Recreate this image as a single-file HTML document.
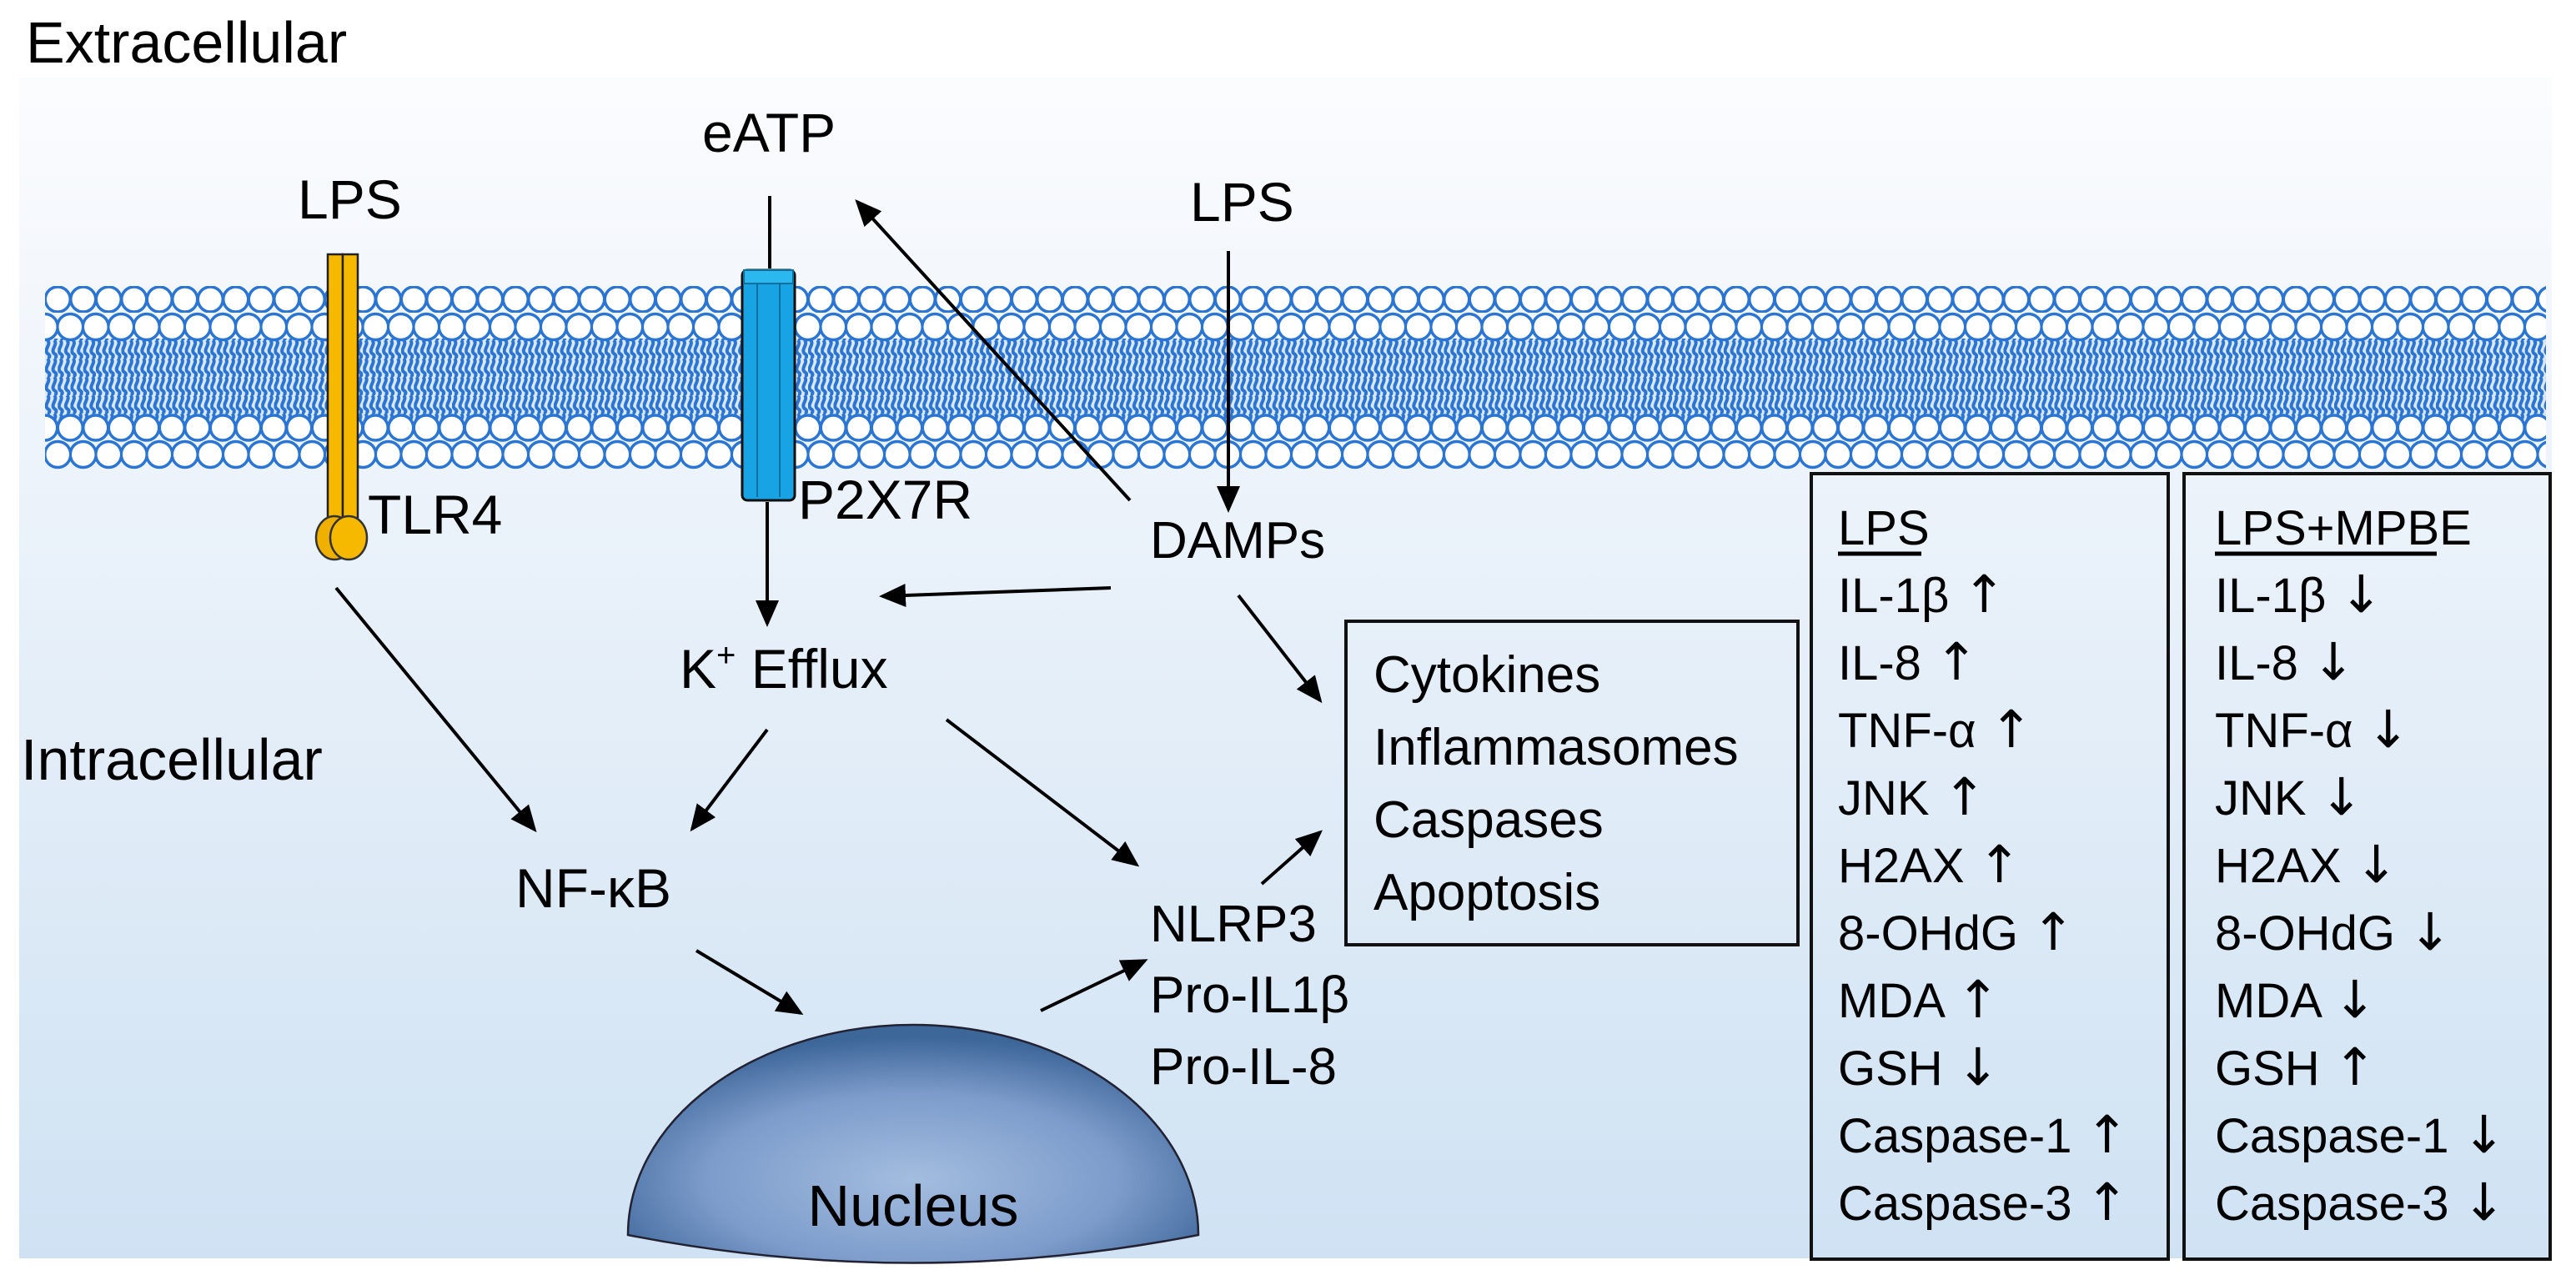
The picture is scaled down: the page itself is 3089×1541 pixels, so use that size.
<!DOCTYPE html>
<html><head><meta charset="utf-8"><style>
html,body{margin:0;padding:0;background:#fff;}
svg{display:block;}
text{font-family:"Liberation Sans",sans-serif;fill:#000;}
.a{font-family:"DejaVu Sans",sans-serif;font-size:62px;}
</style></head><body>
<svg width="3089" height="1541" viewBox="0 0 3089 1541" xmlns="http://www.w3.org/2000/svg">
<defs>
<linearGradient id="bg" x1="0" y1="0" x2="0" y2="1">
<stop offset="0" stop-color="#fbfcfe"/><stop offset="0.3" stop-color="#eef4fb"/><stop offset="1" stop-color="#cfe2f3"/>
</linearGradient>
<radialGradient id="nuc" cx="0.5" cy="0.65" r="0.6">
<stop offset="0" stop-color="#a3bddf"/><stop offset="0.6" stop-color="#7d9ccb"/><stop offset="1" stop-color="#3d6699"/>
</radialGradient>
<pattern id="h1" patternUnits="userSpaceOnUse" x="54" y="343" width="30.5" height="32">
<circle cx="15.25" cy="16" r="15" fill="#fff" stroke="#2a75d3" stroke-width="3.5"/></pattern>
<pattern id="h2" patternUnits="userSpaceOnUse" x="69" y="374" width="30.5" height="36">
<circle cx="15.25" cy="18" r="15.5" fill="#fff" stroke="#2a75d3" stroke-width="3.5"/></pattern>
<pattern id="h3" patternUnits="userSpaceOnUse" x="69" y="496" width="30.5" height="34">
<circle cx="15.25" cy="17" r="15" fill="#fff" stroke="#2a75d3" stroke-width="3.5"/></pattern>
<pattern id="h4" patternUnits="userSpaceOnUse" x="54" y="527" width="30.5" height="36">
<circle cx="15.25" cy="18" r="15.5" fill="#fff" stroke="#2a75d3" stroke-width="3.5"/></pattern>
<pattern id="tl" patternUnits="userSpaceOnUse" x="54" y="408" width="15.25" height="22">
<rect width="15.25" height="22" fill="#dbe8f8"/>
<path d="M3,0 C8,5 -2,11 3,16 C8,19 4,22 3,22 M11,0 C16,5 6,11 11,16 C16,19 12,22 11,22" fill="none" stroke="#2a75d3" stroke-width="4"/></pattern>
<marker id="ar" markerWidth="8" markerHeight="8" refX="7" refY="4" orient="auto" markerUnits="strokeWidth">
<path d="M0,0.5 L8,4 L0,7.5 z" fill="#000"/></marker>
</defs>

<rect x="23" y="93" width="3037" height="1416" fill="url(#bg)"/>

<rect x="54" y="406" width="2999" height="108" fill="url(#tl)"/>
<rect x="54" y="343" width="2999" height="32" fill="url(#h1)"/>
<rect x="54" y="374" width="2999" height="36" fill="url(#h2)"/>
<rect x="54" y="496" width="2999" height="34" fill="url(#h3)"/>
<rect x="54" y="527" width="2999" height="36" fill="url(#h4)"/>

<rect x="393" y="305" width="18" height="318" fill="#f7b900" stroke="#222" stroke-width="2.5"/>
<rect x="411" y="305" width="18" height="318" fill="#f7b900" stroke="#222" stroke-width="2.5"/>
<ellipse cx="401" cy="645" rx="22" ry="26" fill="#f0b000" stroke="#333" stroke-width="2.5"/>
<ellipse cx="418" cy="645" rx="22" ry="26" fill="#f7b900" stroke="#333" stroke-width="2.5"/>

<rect x="890" y="324" width="63" height="276" rx="6" fill="#18a4e4" stroke="#111" stroke-width="3"/>
<line x1="908" y1="330" x2="908" y2="596" stroke="#0d6f9e" stroke-width="2"/>
<line x1="935" y1="330" x2="935" y2="596" stroke="#0d6f9e" stroke-width="2"/>
<rect x="892" y="324" width="59" height="16" fill="#2bb8ee" stroke="#0d6f9e" stroke-width="2"/>

<path d="M753,1481 A342,252 0 0 1 1437,1481 Q1095,1548 753,1481 Z" fill="url(#nuc)" stroke="#223" stroke-width="2.5"/>

<g stroke="#000" stroke-width="4" fill="none">
<line x1="923" y1="235" x2="923" y2="322"/>
<line x1="1355" y1="600" x2="1028" y2="242" marker-end="url(#ar)"/>
<line x1="1473" y1="301" x2="1473" y2="611" marker-end="url(#ar)"/>
<line x1="920" y1="602" x2="920" y2="748" marker-end="url(#ar)"/>
<line x1="1332" y1="705" x2="1058" y2="715" marker-end="url(#ar)"/>
<line x1="1485" y1="714" x2="1583" y2="840" marker-end="url(#ar)"/>
<line x1="403" y1="705" x2="641" y2="995" marker-end="url(#ar)"/>
<line x1="920" y1="875" x2="830" y2="994" marker-end="url(#ar)"/>
<line x1="1135" y1="863" x2="1363" y2="1037" marker-end="url(#ar)"/>
<line x1="1513" y1="1060" x2="1583" y2="998" marker-end="url(#ar)"/>
<line x1="835" y1="1140" x2="960" y2="1215" marker-end="url(#ar)"/>
<line x1="1248" y1="1212" x2="1373" y2="1152" marker-end="url(#ar)"/>
</g>

<g fill="none" stroke="#111" stroke-width="4">
<rect x="1614" y="745" width="542" height="388"/>
<rect x="2172" y="568" width="428" height="942"/>
<rect x="2619" y="568" width="439" height="942"/>
</g>

<g font-size="70">
<text x="31" y="75">Extracellular</text>
<text x="25" y="935">Intracellular</text>
<text x="1095" y="1470" text-anchor="middle">Nucleus</text>
</g>
<g font-size="66">
<text x="357" y="262">LPS</text>
<text x="1427" y="265">LPS</text>
<text x="842" y="182">eATP</text>
<text x="441" y="640">TLR4</text>
<text x="957" y="622">P2X7R</text>
<text x="815" y="825">K<tspan font-size="40" dy="-26">+</tspan><tspan dy="26"> Efflux</tspan></text>
<text x="618" y="1088">NF-κB</text>
</g>
<g font-size="62">
<text x="1379" y="669">DAMPs</text>
<text x="1379" y="1129">NLRP3</text>
<text x="1379" y="1214">Pro-IL1β</text>
<text x="1379" y="1300">Pro-IL-8</text>
<text x="1647" y="830">Cytokines</text>
<text x="1647" y="917">Inflammasomes</text>
<text x="1647" y="1004">Caspases</text>
<text x="1647" y="1091">Apoptosis</text>
</g>
<g font-size="58">
<text x="2204" y="653">LPS</text>
<text x="2204" y="734">IL-1β <tspan class="a">↑</tspan></text>
<text x="2204" y="815">IL-8 <tspan class="a">↑</tspan></text>
<text x="2204" y="896">TNF-α <tspan class="a">↑</tspan></text>
<text x="2204" y="977">JNK <tspan class="a">↑</tspan></text>
<text x="2204" y="1058">H2AX <tspan class="a">↑</tspan></text>
<text x="2204" y="1139">8-OHdG <tspan class="a">↑</tspan></text>
<text x="2204" y="1220">MDA <tspan class="a">↑</tspan></text>
<text x="2204" y="1301">GSH <tspan class="a">↓</tspan></text>
<text x="2204" y="1382">Caspase-1 <tspan class="a">↑</tspan></text>
<text x="2204" y="1463">Caspase-3 <tspan class="a">↑</tspan></text>
<text x="2656" y="653">LPS+MPBE</text>
<text x="2656" y="734">IL-1β <tspan class="a">↓</tspan></text>
<text x="2656" y="815">IL-8 <tspan class="a">↓</tspan></text>
<text x="2656" y="896">TNF-α <tspan class="a">↓</tspan></text>
<text x="2656" y="977">JNK <tspan class="a">↓</tspan></text>
<text x="2656" y="1058">H2AX <tspan class="a">↓</tspan></text>
<text x="2656" y="1139">8-OHdG <tspan class="a">↓</tspan></text>
<text x="2656" y="1220">MDA <tspan class="a">↓</tspan></text>
<text x="2656" y="1301">GSH <tspan class="a">↑</tspan></text>
<text x="2656" y="1382">Caspase-1 <tspan class="a">↓</tspan></text>
<text x="2656" y="1463">Caspase-3 <tspan class="a">↓</tspan></text>
</g>
<line x1="2204" y1="664" x2="2304" y2="664" stroke="#000" stroke-width="5"/>
<line x1="2656" y1="664" x2="2922" y2="664" stroke="#000" stroke-width="5"/>
</svg>
</body></html>
